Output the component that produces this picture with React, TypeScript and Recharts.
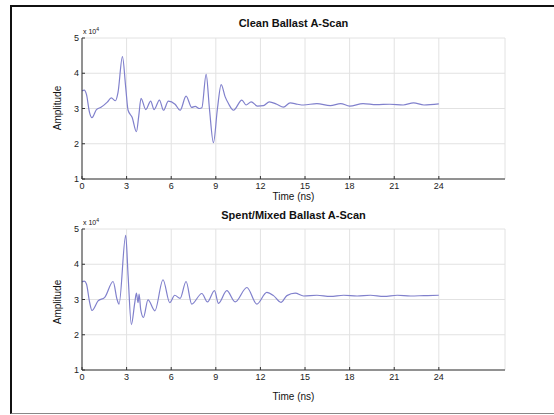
import { LineChart, Line, XAxis, YAxis, CartesianGrid } from "recharts";

// time axis ticks (ns) and amplitude ticks (x 10^4)
const timeTicks = [0, 3, 6, 9, 12, 15, 18, 21, 24];
const ampTicks = [1, 2, 3, 4, 5];

// Clean ballast A-scan
const cleanTime = [
  0, 0.15, 0.3, 0.5, 0.67, 0.97, 1.3, 1.7, 1.97, 2.25, 2.42, 2.72, 2.94, 3.1,
  3.37, 3.66, 3.82, 3.97, 4.29, 4.62, 4.85, 5.21, 5.48, 5.81, 6.26, 6.6, 7.0,
  7.38, 7.61, 7.9, 8.06, 8.35, 8.57, 8.84, 9.11, 9.36, 9.63, 9.85, 10.19,
  10.75, 11.04, 11.38, 11.8, 12.2, 12.6, 13.1, 13.55, 14.0, 14.5, 14.9, 15.8,
  16.7, 17.4, 18.0, 18.9, 19.8, 20.7, 21.6, 22.3, 23.0, 24,
];
const cleanAmp = [
  3.5, 3.52, 3.4, 2.9, 2.74, 2.97, 3.04, 3.18, 3.3, 3.22, 3.45, 4.47, 3.6,
  2.95, 2.75, 2.34, 2.8, 3.29, 2.97, 3.21, 2.97, 3.24, 2.95, 3.21, 3.12, 2.95,
  3.35, 3.03, 3.06, 3.0, 3.02, 3.97, 3.0, 2.03, 3.0, 3.68, 3.33, 3.14, 2.95,
  3.24, 3.1, 3.19, 3.07, 3.08, 3.19, 3.12, 3.04, 3.16, 3.12, 3.1, 3.14, 3.08,
  3.14, 3.07, 3.14, 3.11, 3.12, 3.1, 3.16, 3.1, 3.13,
];

// Spent / mixed ballast A-scan
const spentTime = [
  0, 0.15, 0.3, 0.5, 0.67, 1.08, 1.53, 2.09, 2.36, 2.49, 2.94, 3.1, 3.32, 3.55,
  3.66, 3.77, 3.84, 3.95, 4.13, 4.44, 4.9, 5.45, 5.9, 6.24, 6.6, 7.0, 7.38,
  8.06, 8.44, 8.91, 9.18, 9.74, 10.3, 11.09, 11.76, 12.43, 12.88, 13.38, 13.78,
  14.34, 14.9, 15.8, 16.7, 17.6, 18.5, 19.4, 20.3, 21.2, 22.1, 23.0, 24,
];
const spentAmp = [
  3.5, 3.52, 3.44, 2.95, 2.69, 2.96, 3.06, 3.51, 3.0, 2.87, 4.82, 3.68, 2.29,
  2.91, 3.18, 2.91, 3.15, 2.71, 2.49, 2.99, 2.68, 3.56, 2.91, 3.12, 3.03, 3.51,
  2.87, 3.17, 2.93, 3.25, 2.89, 3.25, 2.93, 3.34, 2.87, 3.2, 3.11, 2.92, 3.11,
  3.18, 3.1, 3.12, 3.09, 3.12, 3.1, 3.12, 3.09, 3.12, 3.1, 3.11, 3.12,
];

const cleanData = cleanTime.map((t, i) => ({ t, a: cleanAmp[i] }));
const spentData = spentTime.map((t, i) => ({ t, a: spentAmp[i] }));

const FONT = "'Liberation Sans', Arial, sans-serif";
const AXIS = "#333";
const LINE = "#8080cc";

function Scan({ data, top, marginTop }: { data: { t: number; a: number }[]; top: number; marginTop: number }) {
  return (
    <div style={{ position: "absolute", left: 0, top }}>
      <LineChart
        width={554}
        height={200}
        data={data}
        margin={{ top: marginTop, right: 49, bottom: 200 - marginTop - 141 - 20, left: 42 }}
      >
        <CartesianGrid stroke="#e2e2e2" strokeWidth={1} />
        <XAxis
          dataKey="t"
          type="number"
          domain={[0, 28.45]}
          ticks={timeTicks}
          height={20}
          stroke={AXIS}
          tickSize={-3}
          tickMargin={7}
          tick={{ fontSize: 9, fill: "#222", fontFamily: FONT }}
        />
        <XAxis
          xAxisId="top"
          orientation="top"
          type="number"
          domain={[0, 28.45]}
          ticks={timeTicks}
          height={0}
          mirror
          stroke={AXIS}
          tickSize={3}
          tickFormatter={() => ""}
        />
        <YAxis
          type="number"
          domain={[1, 5]}
          ticks={ampTicks}
          width={40}
          stroke={AXIS}
          tickSize={-3}
          tickMargin={6}
          tick={{ fontSize: 9, fill: "#222", fontFamily: FONT }}
        />
        <YAxis
          yAxisId="right"
          orientation="right"
          type="number"
          domain={[1, 5]}
          ticks={ampTicks}
          width={0}
          mirror
          stroke={AXIS}
          tickSize={3}
          tickFormatter={() => ""}
        />
        <Line
          dataKey="a"
          type="monotone"
          stroke={LINE}
          strokeWidth={1.2}
          dot={false}
          isAnimationActive={false}
        />
      </LineChart>
    </div>
  );
}

const txt = (extra: React.CSSProperties): React.CSSProperties => ({
  position: "absolute",
  fontFamily: FONT,
  color: "#111",
  whiteSpace: "nowrap",
  lineHeight: 1,
  ...extra,
});

function Labels({
  title,
  titleY,
  expY,
  xLabelY,
  ampY,
}: {
  title: string;
  titleY: number;
  expY: number;
  xLabelY: number;
  ampY: number;
}) {
  return (
    <>
      <div style={txt({ left: 0, width: 587, top: titleY, textAlign: "center", fontSize: 11, fontWeight: "bold" })}>
        {title}
      </div>
      <div style={txt({ left: 83, top: expY, fontSize: 7 })}>
        x 10<sup style={{ fontSize: 5 }}>4</sup>
      </div>
      <div style={txt({ left: 0, width: 587, top: xLabelY, textAlign: "center", fontSize: 10 })}>
        Time (ns)
      </div>
      <div
        style={txt({
          left: 58,
          top: ampY,
          fontSize: 10,
          transform: "translate(-50%, -50%) rotate(-90deg)",
        })}
      >
        Amplitude
      </div>
    </>
  );
}

export default function App() {
  return (
    <div
      style={{
        position: "absolute",
        left: 0,
        top: 0,
        width: 554,
        height: 415,
        background: "#fff",
        overflow: "hidden",
      }}
    >
      <div
        style={{
          position: "absolute",
          left: 10,
          top: 5,
          width: 600,
          height: 406,
          borderLeft: "2px solid #111",
          borderTop: "2px solid #111",
          borderBottom: "1px solid #888",
        }}
      />
      <Scan data={cleanData} top={0} marginTop={38} />
      <Scan data={spentData} top={200} marginTop={29} />
      <Labels title="Clean Ballast A-Scan" titleY={18} expY={27} xLabelY={192} ampY={108} />
      <Labels title="Spent/Mixed Ballast A-Scan" titleY={210} expY={218} xLabelY={392} ampY={302} />
    </div>
  );
}
